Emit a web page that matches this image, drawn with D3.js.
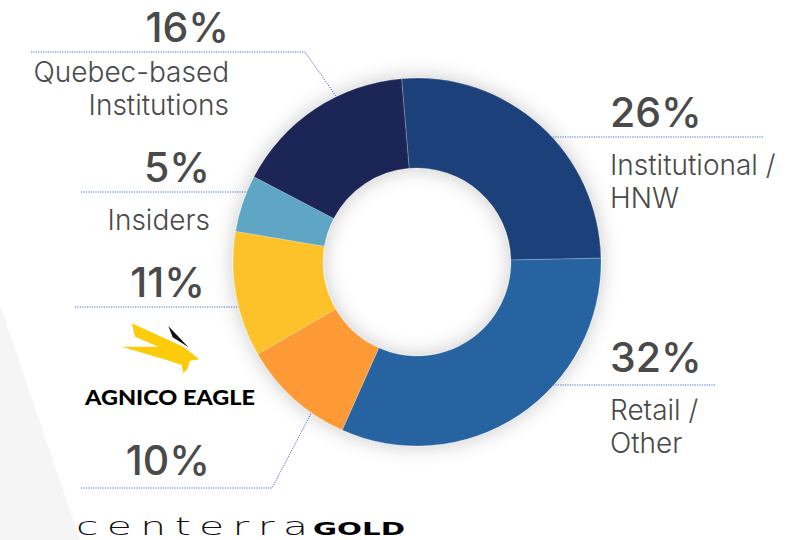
<!DOCTYPE html>
<html>
<head>
<meta charset="utf-8">
<script src="https://cdn.jsdelivr.net/npm/d3@7"></script>
<style>
  html, body { margin: 0; padding: 0; background: #fff; }
  svg { display: block; }
  .pct   { font-family: Inter, "Noto Sans", sans-serif; font-weight: 500; font-size: 41px; fill: #4a4a4a; }
  .label { font-family: Inter, "Noto Sans", sans-serif; font-weight: 300; font-size: 28px; fill: #4a4a4a; }
  .leader { fill: none; stroke: #3f6fd1; stroke-width: 1; stroke-dasharray: 1.2 1.2; }
</style>
</head>
<body>
<div id="chart"></div>
<script>
// Shareholders, clockwise from just left of 12 o'clock
var categories = ["Institutional / HNW", "Retail / Other", "Centerra Gold", "Agnico Eagle", "Insiders", "Quebec-based Institutions"]
var shares     = [26, 32, 10, 11, 5, 16]
var colours    = ["#1f4079", "#2563a0", "#fd9a36", "#fdc22a", "#5ea6c4", "#1e2856"]
var labelLines = [["Institutional /", "HNW"], ["Retail /", "Other"], [], [], ["Insiders"], ["Quebec-based", "Institutions"]]

var width  = 786,
    height = 540,
    cx     = 417,
    cy     = 262,
    outerR = 184,
    innerR = 94,
    start  = -4.8 * Math.PI / 180

var svg = d3.select("#chart").append("svg")
            .attr("width", width)
            .attr("height", height)

// Soft shadow round the ring
var filter = svg.append("defs").append("filter")
                .attr("id", "shadow")
                .attr("x", "-30%").attr("y", "-30%")
                .attr("width", "160%").attr("height", "160%")
filter.append("feDropShadow")
      .attr("dx", 0).attr("dy", 0)
      .attr("stdDeviation", 10)
      .attr("flood-color", "#000")
      .attr("flood-opacity", 0.22)

// Light grey wedge bottom left
svg.append("path")
   .attr("d", "M0,305 L80,540 L0,540 Z")
   .attr("fill", "#f5f5f5")

// Donut
var pie = d3.pie()
            .sort(null)
            .startAngle(start)
            .endAngle(start + 2 * Math.PI)
var arc = d3.arc().innerRadius(innerR).outerRadius(outerR)

var donut = svg.append("g")
               .attr("transform", "translate(" + cx + "," + cy + ")")
               .attr("filter", "url(#shadow)")
donut.selectAll("path")
     .data(pie(shares))
     .enter()
       .append("path")
         .attr("d", arc)
         .attr("fill", function (d, i) { return colours[i] })
         .attr("stroke", "rgba(255,255,255,0.35)")
         .attr("stroke-width", 0.6)

// Label layout: text anchor side, x of text, baseline of the % figure,
// gap to first label line, leader line y and far end,
// optional elbow with angle on the ring
var layout = [
  { side: "start", x: 610, y: 127, gap: 48, lineY: 137, lineX: 763 },
  { side: "start", x: 610, y: 372, gap: 48, lineY: 385, lineX: 715 },
  { side: "end",   x: 210, y: 475, gap: 48, lineY: 488, lineX: 81,  elbowX: 272, angle: 215 },
  { side: "end",   x: 205, y: 297, gap: 48, lineY: 307, lineX: 75 },
  { side: "end",   x: 210, y: 182, gap: 48, lineY: 192, lineX: 81 },
  { side: "end",   x: 229, y: 42,  gap: 40, lineY: 52,  lineX: 31,  elbowX: 305, angle: -26 }
]

var fmt  = d3.format(".0%"),
    line = d3.line()

// Point where a leader meets the outer edge of the ring
var ringPoint = function (L) {
  if (L.elbowX != null) {
    var a = L.angle * Math.PI / 180
    return [cx + outerR * Math.sin(a), cy - outerR * Math.cos(a)]
  }
  var dy = L.lineY - cy,
      dx = Math.sqrt(outerR * outerR - dy * dy)
  return [L.side == "start" ? cx + dx : cx - dx, L.lineY]
}

var labels = svg.append("g").attr("class", "labels")
shares.forEach(function (v, i) {
  var L   = layout[i],
      pts = [[L.lineX, L.lineY]]
  if (L.elbowX != null) pts.push([L.elbowX, L.lineY])
  pts.push(ringPoint(L))

  labels.append("path")
        .attr("class", "leader")
        .attr("d", line(pts))

  labels.append("text")
        .attr("class", "pct")
        .attr("x", L.x)
        .attr("y", L.y)
        .attr("text-anchor", L.side)
        .text(fmt(v / 100))

  labelLines[i].forEach(function (t, j) {
    labels.append("text")
          .attr("class", "label")
          .attr("x", L.x)
          .attr("y", L.y + L.gap + j * 33)
          .attr("text-anchor", L.side)
          .text(t)
  })
})

// Agnico Eagle logo
var agnico = svg.append("g").attr("class", "logo-agnico")
agnico.append("path")
      .attr("d", "M131.7,323.3 L183.3,346.7 L199.3,359.3 L190,360.7 L187.3,369.3 L183.3,373.3 L181.7,365 L166.7,360 L121.7,346.7 L158.3,346.7 L135,336.7 Z")
      .attr("fill", "#fccb0a")
agnico.append("path")
      .attr("d", "M168.3,326 L172.7,337.3 L188.5,347.3 Z")
      .attr("fill", "#111")
agnico.append("text")
      .attr("x", 85)
      .attr("y", 405)
      .attr("textLength", 170)
      .attr("lengthAdjust", "spacingAndGlyphs")
      .style("font-family", "Lato, 'Open Sans', sans-serif")
      .style("font-weight", 900)
      .style("font-size", "21px")
      .style("fill", "#000")
      .text(categories[3].toUpperCase())

// Centerra Gold logo, "centerra" stretched wide
var stretch  = 1.7,
    centerra = svg.append("g").attr("class", "logo-centerra")
centerra.append("text")
        .attr("transform", "translate(76,535) scale(" + stretch + ",1)")
        .attr("textLength", 232 / stretch)
        .attr("lengthAdjust", "spacing")
        .style("font-family", "'DejaVu Sans ExtraLight', 'DejaVu Sans', sans-serif")
        .style("font-weight", 200)
        .style("font-size", "24px")
        .style("fill", "#111")
        .text(categories[2].split(" ")[0].toLowerCase())
centerra.append("text")
        .attr("x", 313)
        .attr("y", 535)
        .attr("textLength", 92)
        .attr("lengthAdjust", "spacingAndGlyphs")
        .style("font-family", "'DejaVu Sans', sans-serif")
        .style("font-weight", 900)
        .style("font-size", "18px")
        .style("fill", "#000")
        .text(categories[2].split(" ")[1].toUpperCase())
</script>
</body>
</html>
